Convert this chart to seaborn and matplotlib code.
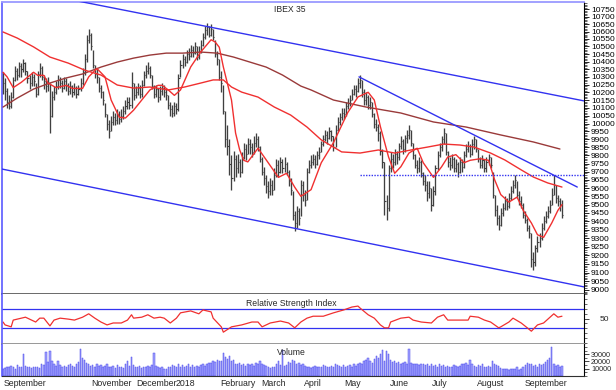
import matplotlib
matplotlib.use("Agg")
import matplotlib.pyplot as plt
import matplotlib.ticker as mticker
import matplotlib.transforms as mtrans
import numpy as np
import seaborn as sns

# IBEX 35 daily bars, 1 Sep 2017 .. 28 Sep 2018 (bar index 0..274)
close = [
    10260, 10210, 10140, 10110, 10170, 10280, 10340, 10310, 10370, 10350,
    10390, 10340, 10290, 10260, 10300, 10270, 10190, 10320, 10360, 10300,
    10270, 10240, 10260, 10050, 10170, 10200, 10240, 10280, 10260, 10230,
    10270, 10250, 10210, 10240, 10200, 10230, 10190, 10220, 10260, 10330,
    10420, 10540, 10580, 10500, 10380, 10320, 10300, 10230, 10200, 10150,
    10060, 10000, 9950, 10010, 10040, 10020, 10060, 10030, 10050, 10080,
    10110, 10140, 10120, 10260, 10180, 10200, 10230, 10190, 10250, 10310,
    10340, 10360, 10310, 10240, 10190, 10220, 10170, 10210, 10230, 10200,
    10180, 10120, 10090, 10070, 10110, 10090, 10290, 10380, 10420, 10400,
    10450, 10440, 10480, 10460, 10500, 10430, 10470, 10510, 10560, 10610,
    10630, 10580, 10620, 10560, 10450, 10420, 10300, 10260, 10080, 9900,
    9860, 9750, 9660, 9780, 9720, 9760, 9700, 9790, 9840, 9810,
    9870, 9850, 9820, 9880, 9900, 9850, 9780, 9700, 9660, 9610,
    9580, 9620, 9590, 9680, 9740, 9700, 9760, 9720, 9750, 9700,
    9640, 9590, 9440, 9390, 9460, 9420, 9620, 9560, 9530, 9700,
    9740, 9760, 9780, 9750, 9800, 9820, 9870, 9900, 9930, 9910,
    9950, 9920, 9850, 9960, 10010, 10040, 10070, 10060, 10110, 10130,
    10150, 10190, 10220, 10210, 10260, 10280, 10200, 10150, 10170, 10120,
    10140, 10060, 10000, 9980, 9940, 9830, 9760, 9520, 9480, 9720,
    9780, 9760, 9810, 9790, 9860, 9890, 9840, 9910, 9930, 9960,
    9880, 9800, 9740, 9720, 9760, 9690, 9640, 9620, 9570, 9600,
    9500, 9580, 9720, 9800, 9850, 9900, 9940, 9820, 9760, 9740,
    9780, 9720, 9750, 9700, 9760, 9730, 9800, 9840, 9860, 9810,
    9870, 9900, 9840, 9780, 9740, 9770, 9720, 9760, 9790, 9740,
    9560, 9470, 9420, 9380, 9450, 9480, 9520, 9490, 9540, 9580,
    9620, 9650, 9560, 9520, 9500, 9440, 9410, 9360, 9330, 9180,
    9160, 9240, 9280, 9300, 9360, 9400, 9430, 9460, 9500, 9560,
    9620, 9540, 9520, 9500, 9440,
]
high = [
    10330, 10290, 10230, 10180, 10200, 10300, 10370, 10360, 10400, 10390,
    10420, 10400, 10340, 10310, 10330, 10320, 10260, 10340, 10390, 10370,
    10310, 10290, 10300, 10260, 10210, 10240, 10270, 10310, 10300, 10280,
    10300, 10290, 10260, 10270, 10250, 10260, 10240, 10250, 10290, 10360,
    10450, 10580, 10620, 10590, 10480, 10380, 10350, 10300, 10250, 10210,
    10130, 10060, 10020, 10050, 10080, 10070, 10090, 10080, 10090, 10110,
    10150, 10170, 10170, 10330, 10260, 10240, 10260, 10250, 10280, 10340,
    10380, 10400, 10370, 10310, 10250, 10250, 10230, 10240, 10260, 10250,
    10220, 10180, 10140, 10120, 10140, 10130, 10320, 10410, 10450, 10440,
    10480, 10490, 10510, 10500, 10530, 10500, 10500, 10540, 10590, 10640,
    10660, 10640, 10650, 10620, 10540, 10470, 10420, 10340, 10250, 10080,
    9990, 9900, 9800, 9830, 9800, 9810, 9780, 9820, 9880, 9870,
    9910, 9900, 9880, 9920, 9940, 9920, 9860, 9790, 9730, 9680,
    9640, 9660, 9650, 9720, 9780, 9770, 9790, 9780, 9790, 9760,
    9710, 9660, 9580, 9460, 9490, 9480, 9650, 9640, 9590, 9720,
    9770, 9800, 9810, 9800, 9830, 9850, 9890, 9930, 9960, 9950,
    9980, 9960, 9920, 9990, 10040, 10070, 10100, 10100, 10140, 10160,
    10180, 10220, 10250, 10250, 10290, 10310, 10280, 10220, 10200, 10180,
    10170, 10140, 10070, 10030, 10000, 9950, 9840, 9760, 9560, 9740,
    9820, 9810, 9840, 9830, 9880, 9920, 9900, 9930, 9960, 9990,
    9960, 9880, 9810, 9770, 9790, 9770, 9700, 9680, 9640, 9640,
    9600, 9610, 9740, 9830, 9880, 9920, 9970, 9940, 9830, 9790,
    9810, 9790, 9780, 9760, 9790, 9780, 9830, 9870, 9890, 9870,
    9900, 9920, 9900, 9840, 9790, 9800, 9780, 9790, 9810, 9790,
    9700, 9560, 9500, 9440, 9480, 9510, 9550, 9540, 9570, 9610,
    9650, 9680, 9640, 9580, 9550, 9510, 9460, 9420, 9380, 9330,
    9220, 9260, 9310, 9330, 9390, 9430, 9460, 9490, 9530, 9600,
    9680, 9620, 9560, 9540, 9530,
]
low = [
    10190, 10150, 10100, 10090, 10100, 10160, 10270, 10280, 10300, 10300,
    10330, 10310, 10260, 10220, 10240, 10240, 10170, 10180, 10300, 10280,
    10220, 10200, 10210, 9940, 10040, 10150, 10190, 10220, 10230, 10200,
    10220, 10210, 10180, 10190, 10170, 10180, 10160, 10180, 10210, 10250,
    10310, 10400, 10520, 10480, 10360, 10290, 10260, 10200, 10160, 10120,
    10040, 9960, 9910, 9950, 9990, 9990, 10000, 10000, 10010, 10030,
    10060, 10090, 10090, 10100, 10150, 10160, 10180, 10160, 10170, 10240,
    10290, 10320, 10290, 10220, 10160, 10170, 10140, 10150, 10180, 10170,
    10150, 10090, 10050, 10040, 10050, 10060, 10080, 10300, 10360, 10370,
    10390, 10410, 10430, 10430, 10450, 10410, 10420, 10460, 10500, 10550,
    10580, 10560, 10570, 10540, 10430, 10380, 10280, 10200, 10060, 9850,
    9800, 9680, 9590, 9640, 9670, 9690, 9670, 9690, 9780, 9770,
    9810, 9810, 9790, 9810, 9850, 9830, 9760, 9680, 9620, 9570,
    9540, 9560, 9560, 9590, 9670, 9670, 9690, 9690, 9700, 9680,
    9610, 9560, 9410, 9340, 9360, 9380, 9430, 9520, 9490, 9530,
    9690, 9720, 9740, 9720, 9740, 9780, 9820, 9860, 9890, 9870,
    9900, 9890, 9830, 9850, 9950, 9990, 10020, 10030, 10050, 10090,
    10110, 10150, 10180, 10170, 10200, 10230, 10170, 10120, 10120, 10090,
    10090, 10040, 9970, 9950, 9890, 9800, 9720, 9440, 9410, 9460,
    9700, 9720, 9740, 9750, 9770, 9840, 9810, 9820, 9880, 9900,
    9860, 9780, 9720, 9690, 9700, 9670, 9620, 9580, 9520, 9540,
    9460, 9490, 9560, 9710, 9790, 9830, 9870, 9800, 9730, 9710,
    9720, 9700, 9700, 9670, 9690, 9700, 9720, 9790, 9820, 9790,
    9800, 9840, 9820, 9760, 9720, 9720, 9700, 9700, 9740, 9720,
    9540, 9430, 9380, 9350, 9370, 9430, 9470, 9470, 9480, 9530,
    9570, 9600, 9540, 9500, 9480, 9420, 9390, 9340, 9300, 9130,
    9115, 9140, 9220, 9250, 9290, 9350, 9390, 9420, 9450, 9500,
    9560, 9510, 9490, 9460, 9420,
]
volume = [
    9000, 11000, 13000, 12000, 14000, 12000, 10000, 15000, 13000, 12000,
    30000, 14000, 12000, 13000, 11000, 12000, 13000, 12000, 11000, 17000,
    15000, 33000, 19000, 35000, 21000, 16000, 14000, 20000, 15000, 13000,
    14000, 12000, 15000, 16000, 14000, 13000, 17000, 19000, 37000, 25000,
    22000, 18000, 16000, 14000, 15000, 13000, 16000, 14000, 15000, 13000,
    14000, 16000, 13000, 12000, 14000, 11000, 15000, 12000, 13000, 11000,
    17000, 20000, 14000, 26000, 15000, 13000, 12000, 14000, 11000, 13000,
    12000, 14000, 13000, 15000, 32000, 14000, 12000, 11000, 13000, 10000,
    9000, 12000, 13000, 15000, 14000, 12000, 16000, 13000, 15000, 12000,
    14000, 17000, 13000, 15000, 12000, 14000, 13000, 15000, 16000, 14000,
    17000, 18000, 18000, 20000, 19000, 22000, 21000, 20000, 31000, 26000,
    24000, 27000, 20000, 22000, 17000, 16000, 18000, 15000, 17000, 14000,
    16000, 15000, 17000, 14000, 18000, 16000, 20000, 17000, 15000, 14000,
    12000, 11000, 13000, 12000, 17000, 20000, 15000, 36000, 14000, 15000,
    19000, 18000, 22000, 20000, 16000, 18000, 15000, 17000, 14000, 13000,
    13000, 11000, 12000, 14000, 12000, 13000, 12000, 15000, 14000, 13000,
    12000, 14000, 13000, 16000, 15000, 14000, 13000, 15000, 12000, 14000,
    15000, 13000, 16000, 14000, 17000, 18000, 16000, 20000, 22000, 25000,
    21000, 18000, 23000, 27000, 25000, 30000, 36000, 20000, 35000, 30000,
    22000, 19000, 20000, 18000, 19000, 17000, 18000, 19000, 16000, 37000,
    18000, 17000, 16000, 17000, 15000, 16000, 17000, 15000, 16000, 14000,
    16000, 14000, 15000, 13000, 16000, 14000, 15000, 13000, 14000, 12000,
    13000, 15000, 14000, 13000, 14000, 17000, 16000, 18000, 15000, 22000,
    16000, 14000, 13000, 15000, 14000, 16000, 13000, 12000, 14000, 13000,
    20000, 17000, 15000, 14000, 11000, 10000, 9000, 10000, 8000, 9000,
    10000, 9000, 12000, 8000, 10000, 13000, 15000, 18000, 16000, 17000,
    14000, 15000, 13000, 16000, 15000, 17000, 19000, 22000, 25000, 40000,
    16000, 14000, 15000, 13000, 14000,
]

# moving averages (bar index, value)
ma_short_bar = [0, 2, 5, 9, 15, 17, 20, 22, 26, 31, 34, 39, 42, 46, 50, 53, 57, 60,
                64, 68, 72, 76, 78, 81, 84, 87, 92, 97, 102, 104, 106, 108, 112,
                114, 116, 118, 120, 125, 130, 135, 139, 143, 146, 151, 156, 162,
                169, 174, 179, 182, 185, 189, 192, 195, 199, 203, 206, 211, 215,
                218, 222, 226, 229, 234, 238, 241, 244, 248, 252, 255, 259, 262,
                265, 269, 272, 274]
ma_short = [10330, 10300, 10230, 10265, 10330, 10310, 10310, 10260, 10230, 10245,
            10225, 10225, 10300, 10355, 10300, 10150, 10040, 10035, 10085, 10150,
            10215, 10245, 10245, 10215, 10180, 10215, 10365, 10465, 10545, 10530,
            10495, 10365, 10150, 9940, 9835, 9770, 9760, 9845, 9755, 9665, 9690,
            9605, 9550, 9590, 9755, 9880, 10070, 10170, 10200, 10150, 9980, 9790,
            9690, 9730, 9815, 9845, 9755, 9665, 9730, 9790, 9805, 9755, 9770,
            9780, 9770, 9650, 9560, 9515, 9545, 9465, 9390, 9320, 9305, 9390,
            9465, 9500]
ma_mid_bar = [0, 7, 15, 23, 32, 40, 48, 56, 64, 72, 81, 89, 97, 103, 108, 112, 117,
              125, 133, 141, 149, 156, 166, 175, 184, 192, 200, 208, 216, 224, 231,
              239, 246, 254, 260, 267, 274]
ma_mid = [10597, 10556, 10497, 10430, 10390, 10344, 10312, 10247, 10227, 10234,
          10215, 10234, 10260, 10280, 10280, 10234, 10201, 10169, 10105, 10054,
          9978, 9897, 9822, 9815, 9834, 9815, 9834, 9852, 9871, 9865, 9852, 9815,
          9772, 9711, 9667, 9631, 9606]
ma_long_bar = [0, 7, 15, 23, 31, 39, 48, 56, 64, 72, 80, 88, 97, 105, 113, 121, 129,
               137, 146, 151, 162, 178, 195, 211, 227, 244, 260, 273]
ma_long = [10105, 10163, 10221, 10260, 10293, 10319, 10364, 10397, 10423, 10443,
           10456, 10456, 10463, 10456, 10430, 10397, 10364, 10312, 10240, 10215,
           10150, 10105, 10067, 10010, 9978, 9928, 9884, 9840]

# RSI (bar index, value)
rsi_bar = [0, 1, 4, 5, 9, 11, 14, 16, 18, 20, 23, 25, 28, 32, 35, 39, 42, 45, 48,
           51, 54, 58, 61, 63, 64, 68, 71, 74, 77, 79, 82, 85, 87, 92, 96, 98, 102,
           103, 107, 108, 112, 117, 122, 125, 127, 131, 136, 140, 143, 146, 149,
           152, 157, 162, 167, 171, 174, 175, 179, 182, 185, 187, 189, 190, 195,
           199, 201, 205, 210, 213, 216, 218, 223, 228, 229, 233, 236, 239, 243,
           244, 248, 250, 254, 257, 259, 262, 265, 270, 272, 274]
rsi = [43, 37, 33, 47, 51, 53, 47, 43, 51, 51, 35, 47, 51, 49, 47, 53, 60, 51, 43,
       37, 41, 41, 47, 58, 51, 53, 58, 51, 53, 51, 41, 51, 62, 66, 60, 68, 64, 51,
       33, 22, 33, 37, 43, 43, 33, 41, 45, 41, 31, 43, 51, 55, 55, 62, 68, 74, 76,
       72, 58, 51, 37, 31, 31, 43, 51, 53, 47, 43, 41, 53, 58, 47, 47, 47, 55, 53,
       47, 43, 31, 33, 43, 51, 41, 31, 24, 37, 41, 60, 53, 55]

# drawn trend lines (bar index, price)
upper_channel_bar = [34, 285]
upper_channel = [10814, 10144]
lower_channel_bar = [-0.5, 285]
lower_channel = [9716, 9017]
resist_bar = [174.5, 281.5]
resist = [10300, 9606]
support_bar = [175, 285]
support = [9680, 9680]

month_bar = [0, 21, 43, 65, 84, 106, 126, 147, 167, 189, 210, 232, 255, 275]
month_label = ["September", "", "November", "December", "2018", "February",
               "March", "April", "May", "June", "July", "August", "September", ""]

sns.set_style("white")
plt.rcParams['font.family'] = ['Liberation Sans', 'DejaVu Sans']

blue = '#3232f0'
red = '#f03030'
brown = '#9a3a3a'

fig = plt.figure(figsize=(6.16, 3.90), dpi=100)
W, H = 616, 390
left, right = 2 / W, 584 / W


def panel(top_px, bot_px):
    return fig.add_axes([left, 1 - bot_px / H, right - left, (bot_px - top_px) / H])


ax = panel(2, 294)
ax_rsi = panel(294, 344)
ax_vol = panel(344, 376)

idx = np.arange(len(close))
xlim = (-0.5, 284.8)

# price panel
ax.set_yscale('log')
ax.vlines(idx, low, high, color='#404040', lw=0.95, zorder=3)
ax.hlines(close, idx, idx + 0.55, color='#404040', lw=0.8, zorder=3)
sns.lineplot(x=ma_long_bar, y=ma_long, color=brown, lw=1.0, ax=ax, zorder=4)
sns.lineplot(x=ma_mid_bar, y=ma_mid, color=red, lw=1.0, ax=ax, zorder=4)
sns.lineplot(x=ma_short_bar, y=ma_short, color=red, lw=1.0, ax=ax, zorder=5)
sns.lineplot(x=upper_channel_bar, y=upper_channel, color=blue, lw=1.0, ax=ax, zorder=6)
sns.lineplot(x=lower_channel_bar, y=lower_channel, color=blue, lw=1.0, ax=ax, zorder=6)
sns.lineplot(x=resist_bar, y=resist, color=blue, lw=1.0, ax=ax, zorder=6)
ax.plot(support_bar, support, color=blue, lw=1.0, ls=(0, (1, 1)), zorder=6)
ax.set_xlim(*xlim)
ax.set_ylim(8977, 10800)
ax.yaxis.tick_right()
ax.yaxis.set_major_locator(mticker.FixedLocator(list(range(9000, 10751, 50))))
ax.yaxis.set_major_formatter(mticker.FuncFormatter(lambda v, p: f"{v:.0f}"))
ax.yaxis.set_minor_locator(mticker.FixedLocator(list(range(8980, 10800, 10))))
ax.yaxis.set_minor_formatter(mticker.NullFormatter())
ax.tick_params(axis='y', which='major', direction='out', length=3.5, width=0.6,
               labelsize=6.0, pad=1.5, colors='black')
ax.tick_params(axis='y', which='minor', direction='out', length=1.8, width=0.5)
ax.set_xticks([])
ax.set_xlabel('')
ax.set_ylabel('')
ax.text(0.495, 0.99, 'IBEX 35', transform=ax.transAxes, ha='center', va='top',
        fontsize=6.2)

# RSI panel
ax_rsi.axhline(70, color=blue, lw=0.9)
ax_rsi.axhline(30, color=blue, lw=0.9)
sns.lineplot(x=rsi_bar, y=rsi, color=red, lw=0.9, ax=ax_rsi)
ax_rsi.set_xlim(*xlim)
ax_rsi.set_ylim(-2.5, 101)
ax_rsi.yaxis.tick_right()
ax_rsi.set_yticks([50])
ax_rsi.set_yticklabels(['50'])
ax_rsi.yaxis.set_minor_locator(mticker.FixedLocator(list(range(0, 101, 10))))
ax_rsi.tick_params(axis='y', which='major', direction='out', length=3.5, width=0.6,
                   labelsize=6.0, pad=8)
ax_rsi.tick_params(axis='y', which='minor', direction='out', length=2, width=0.5)
ax_rsi.set_xticks([])
ax_rsi.set_xlabel('')
ax_rsi.set_ylabel('')
ax_rsi.text(0.497, 0.9, 'Relative Strength Index', transform=ax_rsi.transAxes,
            ha='center', va='top', fontsize=6.2)

# volume panel
ax_vol.bar(idx, volume, width=0.7, color='#a4a4ff', edgecolor='#4a4aea', lw=0.35)
ax_vol.set_xlim(*xlim)
ax_vol.set_ylim(0, 44000)
ax_vol.yaxis.tick_right()
ax_vol.set_yticks([10000, 20000, 30000])
ax_vol.set_yticklabels(['10000', '20000', '30000'])
ax_vol.yaxis.set_minor_locator(mticker.FixedLocator(list(range(0, 44001, 5000))))
ax_vol.tick_params(axis='y', which='major', direction='out', length=3.5, width=0.6,
                   labelsize=5.2, pad=1.5)
ax_vol.tick_params(axis='y', which='minor', direction='out', length=2, width=0.5)
ax_vol.text(0.497, 0.88, 'Volume', transform=ax_vol.transAxes, ha='center',
            va='top', fontsize=6.2)
ax_vol.set_xticks([b - 0.5 for b in month_bar])
ax_vol.set_xticklabels(month_label)
ax_vol.tick_params(axis='x', direction='out', length=10, width=1.4, color='#8a8a8a',
                   labelsize=6.3, pad=-7.5)
shift = mtrans.ScaledTranslation(2 / 100, 0, fig.dpi_scale_trans)
for lab in ax_vol.get_xticklabels():
    lab.set_horizontalalignment('left')
    lab.set_transform(lab.get_transform() + shift)

# frames
for a in (ax, ax_rsi, ax_vol):
    a.set_facecolor('white')
    a.spines['left'].set_color('#5a5aff')
    a.spines['left'].set_linestyle((0, (3, 1)))
    a.spines['left'].set_linewidth(1.2)
    a.spines['right'].set_color('black')
    a.spines['right'].set_linewidth(0.8)
ax.spines['top'].set_color('#9a9aff')
ax.spines['top'].set_linestyle((0, (1, 1)))
ax.spines['top'].set_linewidth(1.3)
ax.spines['bottom'].set_color('#505050')
ax.spines['bottom'].set_linewidth(1.2)
ax_rsi.spines['top'].set_visible(False)
ax_rsi.spines['bottom'].set_color('#909090')
ax_rsi.spines['bottom'].set_linestyle((0, (1, 1)))
ax_rsi.spines['bottom'].set_linewidth(1.3)
ax_vol.spines['top'].set_visible(False)
ax_vol.spines['bottom'].set_color('#303030')
ax_vol.spines['bottom'].set_linewidth(0.8)

fig.savefig('out.png', dpi=100)
